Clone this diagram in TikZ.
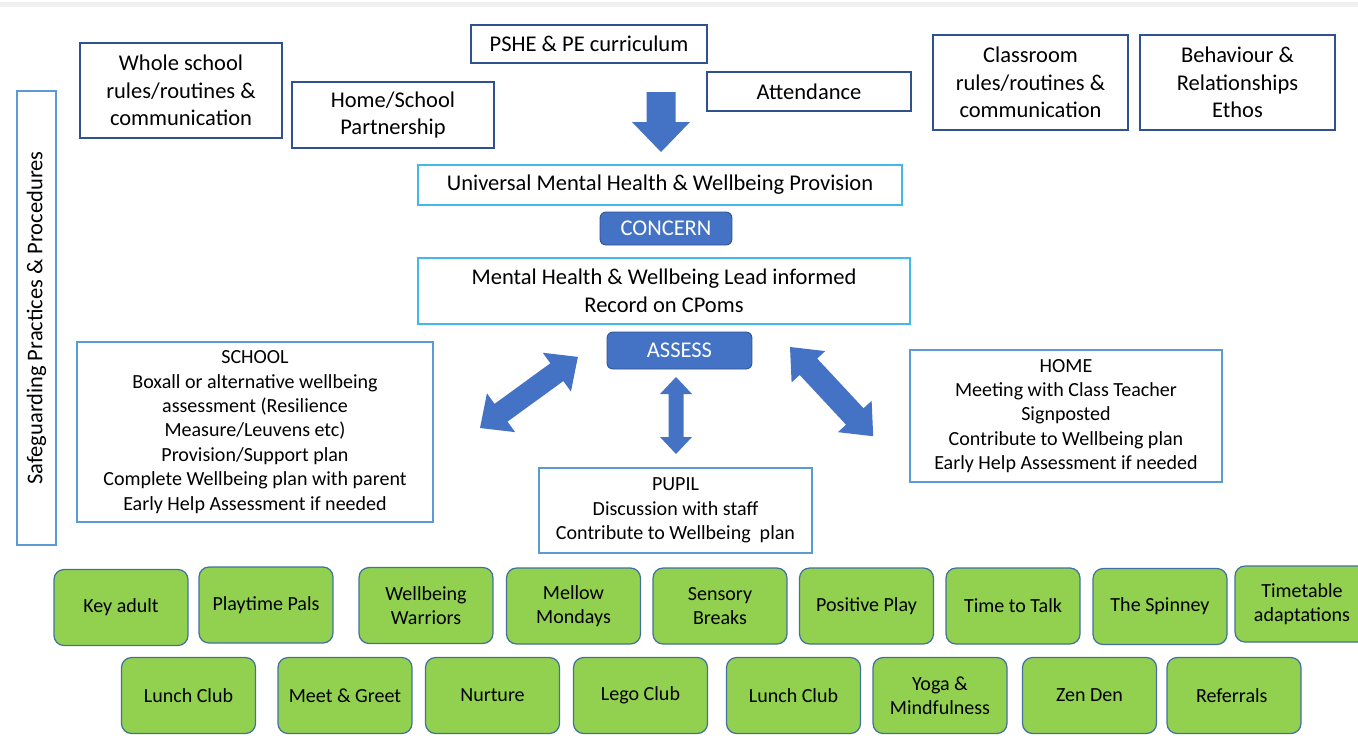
\documentclass[tikz,border=0pt]{standalone}
\usepackage{fontspec}
\setmainfont{Carlito}
\usepackage{tikz}
\usetikzlibrary{calc,positioning}

\definecolor{darkline}{HTML}{2F528F}
\definecolor{lightline}{HTML}{5B9BD5}
\definecolor{cyanline}{HTML}{45B8EA}
\definecolor{tagblue}{HTML}{4472C4}
\definecolor{actgreen}{HTML}{92D050}
\definecolor{actline}{HTML}{41719C}

\newcommand{\bigtxt}{\fontsize{12.8}{15.7}\selectfont}
\newcommand{\smalltxt}{\fontsize{11.4}{13.9}\selectfont}

\tikzset{
    topbox/.style={draw=darkline, line width=0.8pt, align=center, inner sep=2pt, font=\bigtxt},
    cyanbox/.style={draw=cyanline, line width=0.8pt, align=center, inner sep=2pt, font=\bigtxt},
    infobox/.style={draw=lightline, line width=0.7pt, align=center, inner sep=2pt, font=\smalltxt},
    tag/.style={fill=tagblue, draw=darkline, line width=0.5pt, rounded corners=0.12cm, text=white, font=\bigtxt},
    actbox/.style={fill=actgreen, draw=actline, line width=0.7pt, rounded corners=0.2cm, align=center,
        minimum width=2.68cm, minimum height=1.52cm, inner sep=1pt, font=\smalltxt}
}

\begin{document}
\begin{tikzpicture}[x=0.02cm, y=-0.02cm]

\useasboundingbox (0,0) rectangle (1358,735);
\clip (0,0) rectangle (1358,735);
\fill[black!6] (0,2) rectangle (1358,7);

% frame on the left
\node[infobox, font=\bigtxt, rotate=90, minimum width=9.08cm, minimum height=0.78cm] (safe) at (36.5,318) {Safeguarding Practices \& Procedures};

% what feeds the universal offer
\node[topbox, minimum width=4.04cm, minimum height=1.9cm] (whole) at (181,90.5) {Whole school\\rules/routines \&\\communication};
\node[topbox, minimum width=4.04cm, minimum height=1.32cm] (homesch) at (393,115) {Home/School\\Partnership};
\node[topbox, minimum width=4.72cm, minimum height=0.76cm] (pshe) at (589,44) {PSHE \& PE curriculum};
\node[topbox, minimum width=4.08cm, minimum height=0.78cm] (attend) at (809,91.5) {Attendance};
\node[topbox, minimum width=3.9cm, minimum height=1.9cm] (classrm) at (1030.5,82.5) {Classroom\\rules/routines \&\\communication};
\node[topbox, minimum width=3.9cm, minimum height=1.9cm] (behav) at (1237.5,82.5) {Behaviour \&\\Relationships\\Ethos};

\fill[tagblue] (646.5,92) -- (675.5,92) -- (675.5,122) -- (690,122) -- (661,152) -- (632,122) -- (646.5,122) -- cycle;

% centre column
\node[cyanbox, minimum width=9.68cm, minimum height=0.8cm] (univ) at (660,185) {Universal Mental Health \& Wellbeing Provision};
\node[tag, minimum width=2.64cm, minimum height=0.66cm] (concern) at (666,228.5) {CONCERN};
\node[cyanbox, minimum width=9.84cm, minimum height=1.32cm] (lead) at (664,291) {Mental Health \& Wellbeing Lead informed\\Record on CPoms};
\node[tag, minimum width=2.9cm, minimum height=0.74cm] (assess) at (679.5,350.5) {ASSESS};

\node[infobox, minimum width=7.12cm, minimum height=3.6cm] (school) at (255,432) {SCHOOL\\Boxall or alternative wellbeing\\assessment (Resilience\\Measure/Leuvens etc)\\Provision/Support plan\\Complete Wellbeing plan with parent\\Early Help Assessment if needed};
\node[infobox, minimum width=6.24cm, minimum height=2.64cm] (home) at (1066,416) {HOME\\Meeting with Class Teacher\\Signposted\\Contribute to Wellbeing plan\\Early Help Assessment if needed};
\node[infobox, minimum width=5.46cm, minimum height=1.7cm] (pupil) at (675.5,510.5) {PUPIL\\Discussion with staff\\Contribute to Wellbeing~~plan};

% two-way block arrows round ASSESS
\foreach \x/\y/\ang/\len/\s/\h/\a in {480/428/36/121/11/24/26, 790/347/-47/122/12/23/27, 676/454/90/77/7.5/16/17}
{
    \fill[tagblue, shift={(\x,\y)}, rotate=\ang] (0,0) -- (\a,\h) -- (\a,\s) -- ({\len-\a},\s) -- ({\len-\a},\h) -- (\len,0)
        -- ({\len-\a},-\h) -- ({\len-\a},-\s) -- (\a,-\s) -- (\a,-\h) -- cycle;
};

% support on offer
\foreach \n/\x/\y/\t in
{keyad/121/607.5/Key adult,
    pals/266/605/Playtime Pals,
    warr/426/605.5/Wellbeing\\Warriors,
    mellow/573.5/606/Mellow\\Mondays,
    sensory/720/606/Sensory\\Breaks,
    posplay/866.5/606/Positive Play,
    talk/1013/606/Time to Talk,
    spinney/1160/606.5/The Spinney,
    timetab/1302/604/Timetable\\adaptations,
    lunchA/188.5/695.5/Lunch Club,
    greet/345/695.5/Meet \& Greet,
    nurture/492.5/695.5/Nurture,
    lego/640.5/695.5/Lego Club,
    lunchB/793.5/695.5/Lunch Club,
    yoga/940/695.5/Yoga \&\\Mindfulness,
    zen/1089.5/695.5/Zen Den,
    referr/1234/695.5/Referrals
}
{
    \node[actbox] (\n) at (\x,\y) {\t};
};

\end{tikzpicture}
\end{document}
